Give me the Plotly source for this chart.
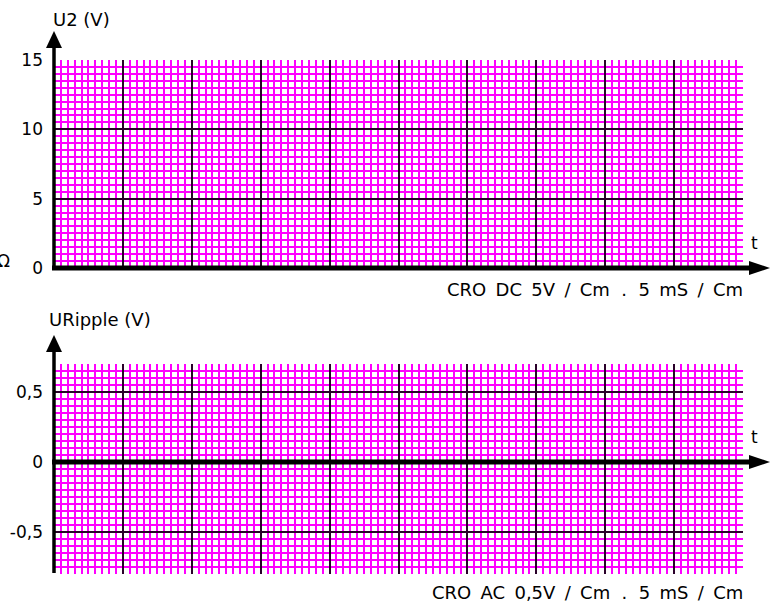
import plotly.graph_objects as go

W, H = 778, 606

# ---- data / axis definitions ----
time_range = [0, 50]            # ms, 5 ms per division, 10 divisions
time_major = 5
time_minor = 0.5

u2_range = [0, 15]
u2_tickvals = [0, 5, 10, 15]
u2_ticktext = ["0", "5", "10", "15"]
u2_minor = 0.5

rip_range = [-0.8, 0.7]
rip_tickvals = [-0.5, 0, 0.5]
rip_ticktext = ["-0,5", "0", "0,5"]
rip_minor = 0.05

NB = "\u00a0"
SP = " \u2009"
title_top = "U2 (V)"
title_bot = "URipple (V)"
note_top = SP.join(["CRO", "DC", "5V", "/", "Cm"]) + f" {NB}. {NB}" + SP.join(["5", "mS", "/", "Cm"])
note_bot = SP.join(["CRO", "AC", "0,5V", "/", "Cm"]) + f" {NB}. {NB}" + SP.join(["5", "mS", "/", "Cm"])

FONT = "DejaVu Sans, Verdana, sans-serif"
FS = 17
FS_T = 18
MAG = "#ff00ff"
MAJ = "#2a002a"


def px(x):
    return x / W


def py(y):
    return 1 - y / H


x_dom = [px(54), px(743)]
top_dom = [py(268), py(60)]
bot_dom = [py(574), py(364)]

fig = go.Figure()
fig.add_trace(go.Scatter(x=[], y=[], xaxis="x", yaxis="y", showlegend=False))
fig.add_trace(go.Scatter(x=[], y=[], xaxis="x2", yaxis="y2", showlegend=False))

xcommon = dict(
    range=time_range, domain=x_dom, showticklabels=False, ticks="",
    dtick=time_major, tick0=0, showgrid=True, gridcolor=MAJ, gridwidth=1.5,
    zeroline=False, showline=False, fixedrange=True, automargin=False,
    minor=dict(dtick=time_minor, tick0=0, showgrid=True, gridcolor=MAG, gridwidth=1.5),
)
fig.update_layout(
    xaxis=dict(anchor="y", **xcommon),
    xaxis2=dict(anchor="y2", **xcommon),
    yaxis=dict(
        range=u2_range, domain=top_dom, tickmode="array", tickvals=u2_tickvals,
        ticktext=u2_ticktext, ticks="", ticklabelstandoff=10, showgrid=True,
        gridcolor=MAJ, gridwidth=1.5, zeroline=False, showline=False,
        tickfont=dict(family=FONT, size=FS, color="black"), fixedrange=True,
        automargin=False,
        minor=dict(dtick=u2_minor, tick0=0, showgrid=True, gridcolor=MAG, gridwidth=1.5),
    ),
    yaxis2=dict(
        range=rip_range, domain=bot_dom, tickmode="array", tickvals=rip_tickvals,
        ticktext=rip_ticktext, ticks="", ticklabelstandoff=10, showgrid=True,
        gridcolor=MAJ, gridwidth=1.5, zeroline=False, showline=False,
        tickfont=dict(family=FONT, size=FS, color="black"), fixedrange=True,
        automargin=False,
        minor=dict(dtick=rip_minor, tick0=0, showgrid=True, gridcolor=MAG, gridwidth=1.5),
    ),
    width=W, height=H, autosize=False,
    margin=dict(l=0, r=0, t=0, b=0, pad=0, autoexpand=False),
    paper_bgcolor="white", plot_bgcolor="white",
    showlegend=False,
    font=dict(family=FONT, size=FS, color="black"),
)

shapes = []
# axes lines
for (y_axis, y_top, y_bot) in [(268, 48, 270), (462, 351, 573)]:
    shapes.append(dict(type="line", xref="paper", yref="paper",
                       x0=px(54), x1=px(54), y0=py(y_top), y1=py(y_bot),
                       line=dict(color="black", width=3.5)))
    shapes.append(dict(type="line", xref="paper", yref="paper",
                       x0=px(52), x1=px(750), y0=py(y_axis), y1=py(y_axis),
                       line=dict(color="black", width=5)))
    # right arrow
    shapes.append(dict(type="path", xref="paper", yref="paper",
                       path=f"M {px(749)} {py(y_axis-7)} L {px(770)} {py(y_axis)} L {px(749)} {py(y_axis+7)} Z",
                       fillcolor="black", line=dict(color="black", width=0)))
# up arrows
for (tip, base) in [(31, 48), (335, 352)]:
    shapes.append(dict(type="path", xref="paper", yref="paper",
                       path=f"M {px(46)} {py(base)} L {px(54)} {py(tip)} L {px(62)} {py(base)} Z",
                       fillcolor="black", line=dict(color="black", width=0)))
fig.update_layout(shapes=shapes)

ann = []
def text(t, x, y, xa="left", ya="middle", size=FS_T):
    ann.append(dict(text=t, x=px(x), y=py(y), xref="paper", yref="paper",
                    xanchor=xa, yanchor=ya, showarrow=False,
                    font=dict(family=FONT, size=size, color="black")))

text(title_top, 51, 20)
text(title_bot, 47, 320)
text("t", 749, 243, size=FS)
text("t", 749, 437, size=FS)
text(note_top, 745, 289, xa="right")
text(note_bot, 745, 592, xa="right")
text("Ω", 12, 261, xa="right", size=FS)
fig.update_layout(annotations=ann)

fig.write_html(
    "out.html",
    config={"responsive": False, "displayModeBar": False},
    post_script="document.body.style.margin='0';document.documentElement.style.overflow='hidden';",
)
